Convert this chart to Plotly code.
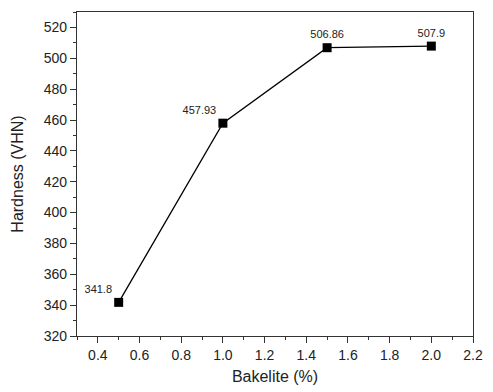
import plotly.graph_objects as go

bakelite = [0.5, 1.0, 1.5, 2.0]
hardness = [341.8, 457.93, 506.86, 507.9]
labels = ["341.8", "457.93", "506.86", "507.9"]
label_pos = ["top left", "top left", "top center", "top center"]

fig = go.Figure()
fig.add_trace(go.Scatter(
    x=bakelite, y=hardness, mode="lines+markers+text",
    line=dict(color="black", width=1.3),
    marker=dict(symbol="square", size=9, color="black"),
    text=labels, textposition=label_pos,
    textfont=dict(family="Arial, Liberation Sans", size=11, color="#222"),
    cliponaxis=False, showlegend=False,
))

axis_common = dict(
    showline=True, linecolor="#333", linewidth=1.3, mirror=True,
    ticks="outside", ticklen=6, tickwidth=1.3, tickcolor="#333",
    showgrid=False, zeroline=False,
    tickfont=dict(family="Arial, Liberation Sans", size=14, color="#222"),
    minor=dict(ticks="outside", ticklen=3, tickwidth=1.1, tickcolor="#333"),
)

fig.update_xaxes(range=[0.3, 2.2], dtick=0.2, tick0=0.4, tickformat=".1f",
                 title=dict(text="Bakelite (%)", font=dict(family="Arial, Liberation Sans", size=16, color="#222"), standoff=8),
                 **axis_common)
fig.update_xaxes(minor=dict(dtick=0.1, tick0=0.3))
fig.update_yaxes(range=[320, 530], dtick=20, tick0=320,
                 title=dict(text="Hardness (VHN)", font=dict(family="Arial, Liberation Sans", size=16, color="#222"), standoff=16),
                 **axis_common)
fig.update_yaxes(minor=dict(dtick=10))

fig.update_layout(
    width=493, height=392,
    margin=dict(l=77, r=10, t=12, b=52),
    plot_bgcolor="white", paper_bgcolor="white",
)
fig.write_html("out.html")
